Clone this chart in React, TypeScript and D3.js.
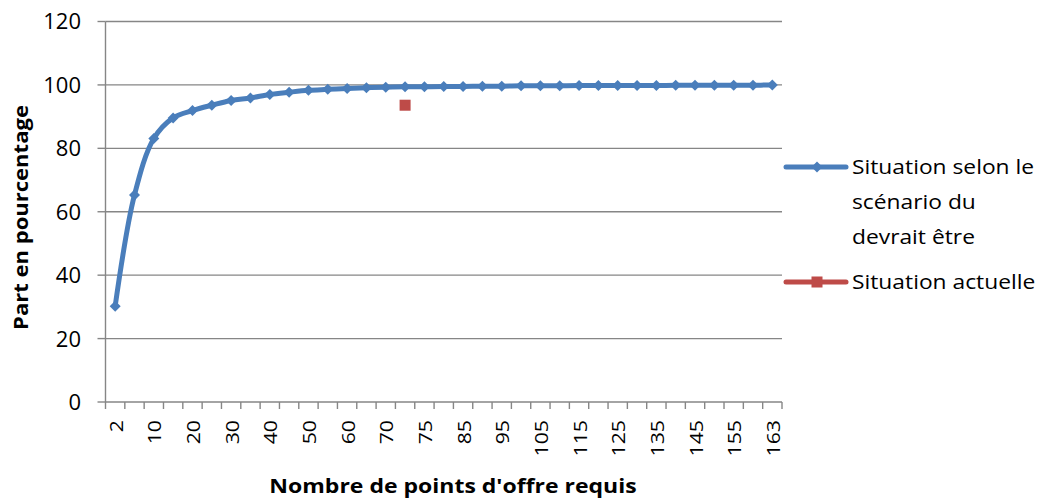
import React from "react";
import * as d3 from "d3";

const categories: number[] = [
  2, 5, 10, 15, 20, 25, 30, 35, 40, 45, 50, 55, 60, 65, 70, 72, 75, 80, 85, 90,
  95, 100, 105, 110, 115, 120, 125, 130, 135, 140, 145, 150, 155, 160, 163,
];
const scenarioValues: number[] = [
  30.2, 65.3, 83.1, 89.6, 91.9, 93.6, 95.1, 95.9, 97.0, 97.7, 98.3, 98.6, 98.9,
  99.1, 99.3, 99.4, 99.4, 99.5, 99.5, 99.6, 99.6, 99.7, 99.7, 99.7, 99.8, 99.8,
  99.8, 99.8, 99.8, 99.9, 99.9, 99.9, 99.9, 99.9, 100,
];
const currentCategory = 72;
const currentValue = 93.6;
const yTicks: number[] = [0, 20, 40, 60, 80, 100, 120];
const seriesNames: string[][] = [
  ["Situation selon le", "scénario du", "devrait être"],
  ["Situation actuelle"],
];

const W = 1040;
const H = 499;
const left = 105.5;
const right = 782;
const top = 21.5;
const bottom = 402;
const FONT = "'Open Sans', sans-serif";
const BLUE = "#4A7EBB";
const RED = "#BE4B48";
const GRID = "#868686";
const DIAMOND = "M0,-5.5L5.5,0L0,5.5L-5.5,0Z";

export default function App() {
  const x = d3
    .scaleBand<number>()
    .domain(categories)
    .range([left, right])
    .paddingInner(0)
    .paddingOuter(0);
  const y = d3.scaleLinear().domain([0, 120]).range([bottom, top]);
  const cx = (c: number) => (x(c) as number) + x.bandwidth() / 2;

  const line = d3
    .line<number>()
    .x((_, i) => cx(categories[i]))
    .y((d) => y(d))
    .curve(d3.curveCatmullRom.alpha(0.5));

  const boundaries = categories.map((c) => x(c) as number).concat([right]);

  return (
    <svg width={W} height={H} style={{ display: "block", position: "absolute", left: 0, top: 0 }}>
      <rect width={W} height={H} fill="#fff" />
      {yTicks.map((t) => (
        <g key={t}>
          {t > 0 && (
            <line x1={left} x2={right} y1={y(t)} y2={y(t)} stroke={GRID} strokeWidth={1.4} />
          )}
          <line x1={left - 8} x2={left} y1={y(t)} y2={y(t)} stroke={GRID} strokeWidth={1.4} />
          <text
            x={81}
            y={y(t)}
            dy="0.36em"
            textAnchor="end"
            fontFamily={FONT}
            fontSize={22}
            fill="#000"
          >
            {t}
          </text>
        </g>
      ))}
      <line x1={left} x2={left} y1={top} y2={bottom} stroke={GRID} strokeWidth={1.4} />
      <line x1={left} x2={right} y1={bottom} y2={bottom} stroke={GRID} strokeWidth={1.4} />
      {boundaries.map((b, i) => (
        <line key={i} x1={b} x2={b} y1={bottom} y2={bottom + 7} stroke={GRID} strokeWidth={1.4} />
      ))}
      {categories.map((c, i) =>
        i % 2 === 0 ? (
          <text
            key={c}
            transform={`translate(${cx(c) + 1},${420}) rotate(-90) scale(1.18,1)`}
            dy="0.36em"
            textAnchor="end"
            fontFamily={FONT}
            fontSize={18}
            fill="#000"
          >
            {c}
          </text>
        ) : null
      )}
      <path d={line(scenarioValues) as string} fill="none" stroke={BLUE} strokeWidth={5} strokeLinejoin="round" />
      {scenarioValues.map((v, i) => (
        <path key={i} d={DIAMOND} transform={`translate(${cx(categories[i])},${y(v)})`} fill={BLUE} />
      ))}
      <rect
        x={cx(currentCategory) - 5.5}
        y={y(currentValue) - 5.5}
        width={11}
        height={11}
        fill={RED}
      />
      <text
        transform={`translate(453,493) scale(1.18,1)`}
        textAnchor="middle"
        fontFamily={FONT}
        fontWeight="bold"
        fontSize={19.5}
        fill="#000"
      >
        Nombre de points d'offre requis
      </text>
      <text
        transform={`translate(28,217.5) rotate(-90) scale(1.13,1)`}
        textAnchor="middle"
        fontFamily={FONT}
        fontWeight="bold"
        fontSize={19.5}
        fill="#000"
      >
        Part en pourcentage
      </text>
      {/* legend */}
      <g>
        <line x1={786} x2={846} y1={167} y2={167} stroke={BLUE} strokeWidth={5} strokeLinecap="round" />
        <path d={DIAMOND} transform={`translate(817,167)`} fill={BLUE} />
        {seriesNames[0].map((s, i) => (
          <text
            key={i}
            transform={`translate(852,${167 + i * 35}) scale(1.14,1)`}
            dy="0.36em"
            fontFamily={FONT}
            fontSize={20}
            fill="#000"
          >
            {s}
          </text>
        ))}
        <line x1={786} x2={846} y1={282} y2={282} stroke={RED} strokeWidth={5} strokeLinecap="round" />
        <rect x={811.5} y={276.5} width={11} height={11} fill={RED} />
        <text
          transform={`translate(852,282) scale(1.14,1)`}
          dy="0.36em"
          fontFamily={FONT}
          fontSize={20}
          fill="#000"
        >
          {seriesNames[1][0]}
        </text>
      </g>
    </svg>
  );
}
